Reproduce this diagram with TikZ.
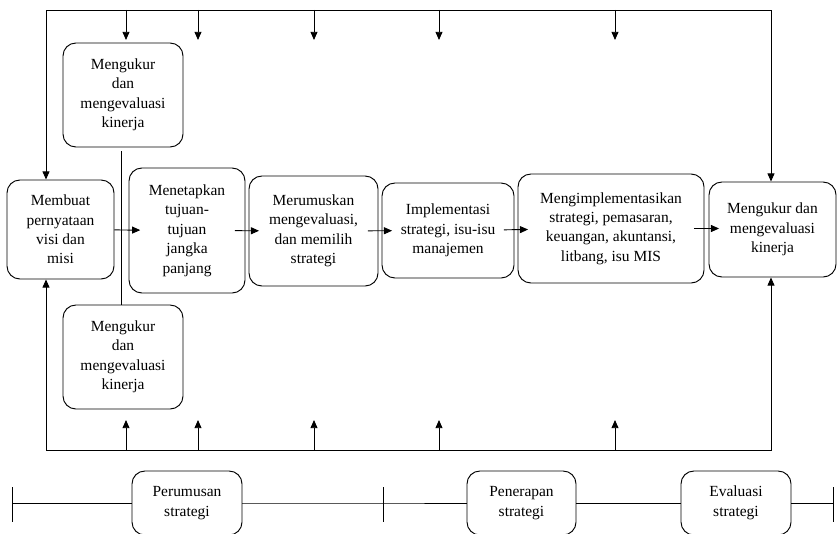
\documentclass[tikz,border=0pt]{standalone}
\usepackage{fontspec}
\setmainfont{Liberation Serif}
\usepackage{tikz}
\usetikzlibrary{arrows.meta,calc}
\definecolor{Garis}{HTML}{000000}
\tikzset{
  kotak/.style={draw=Garis,line width=0.8pt,rounded corners=11pt,fill=white,
    align=center,inner sep=0pt,font=\fontsize{13.2}{16.6}\selectfont},
  panah/.style={draw=Garis,line width=0.8pt,-{Triangle[length=7pt,width=6pt]}},
  sambung/.style={panah,shorten <=-9pt,shorten >=-9pt}
}

\begin{document}
\begin{tikzpicture}[x=0.03cm,y=-0.03cm]
    \useasboundingbox (0,0) rectangle (837,534);

    \node[kotak,minimum width=3.6cm,minimum height=3.12cm] (ukurA) at (123,95) {Mengukur\\dan\\mengevaluasi\\kinerja};
    \node[kotak,minimum width=3.21cm,minimum height=2.97cm] (visi) at (60.5,229.5) {Membuat\\pernyataan\\visi dan\\misi};
    \node[kotak,minimum width=3.48cm,minimum height=3.75cm] (tujuan) at (187,230.5) {Menetapkan\\tujuan-\\tujuan\\jangka\\panjang};
    \node[kotak,minimum width=3.87cm,minimum height=3.3cm] (rumus) at (313.5,231) {Merumuskan\\mengevaluasi,\\dan memilih\\strategi};
    \node[kotak,minimum width=3.96cm,minimum height=2.85cm] (impl) at (448,230.5) {Implementasi\\strategi, isu-isu\\manajemen};
    \node[kotak,minimum width=5.58cm,minimum height=3.27cm] (fungsi) at (611,228.5) {Mengimplementasikan\\strategi, pemasaran,\\keuangan, akuntansi,\\litbang, isu MIS};
    \node[kotak,minimum width=3.81cm,minimum height=2.85cm] (ukurC) at (772.5,229.5) {Mengukur dan\\mengevaluasi\\kinerja};
    \node[kotak,minimum width=3.6cm,minimum height=3.12cm] (ukurB) at (123,357) {Mengukur\\dan\\mengevaluasi\\kinerja};

    % garis balik atas dan bawah
    \coordinate (tl) at (46,10);
    \coordinate (tr) at (771,10);
    \coordinate (bl) at (46,450);
    \coordinate (br) at (771,450);
    \draw[panah,{Triangle[length=7pt,width=6pt]}-{Triangle[length=7pt,width=6pt]}] (tl |- visi.north) -- (tl) -- (tr) -- (tr |- ukurC.north);
    \draw[panah,{Triangle[length=7pt,width=6pt]}-{Triangle[length=7pt,width=6pt]}] (bl |- visi.south) -- (bl) -- (br) -- (br |- ukurC.south);
    \foreach \xa in {126,198,314,439,615} {
        \draw[panah] (\xa,0 |- tl) -- ++(0,30);
        \draw[panah] (\xa,0 |- bl) -- ++(0,-30);
    }

    \draw[draw=Garis,line width=0.8pt] ([xshift=-1.5pt,yshift=-3.4pt]ukurA.south) -- ([xshift=-1.5pt]ukurB.north);

    \draw[panah,shorten >=-10pt] (visi) -- (tujuan);
    \draw[sambung] (tujuan) -- (rumus);
    \draw[sambung] (rumus) -- (impl);
    \draw[sambung] (impl) -- (fungsi);
    \draw[sambung] (fungsi.east) -- (fungsi.east -| ukurC.west);

    % garis tahapan
    \coordinate (t0) at (12,503);
    \coordinate (t1) at (383,503);
    \coordinate (t2) at (833,503);
    \node[kotak,minimum width=3.3cm,minimum height=1.92cm] (fase1) at (187,503) {Perumusan\\strategi};
    \node[kotak,minimum width=3.27cm,minimum height=1.92cm] (fase2) at (521.5,503) {Penerapan\\strategi};
    \node[kotak,minimum width=3.3cm,minimum height=1.92cm] (fase3) at (736,503) {Evaluasi\\strategi};
    \draw[draw=Garis,line width=0.8pt] (t0) -- (fase1) -- (t1) -- (fase2) -- (fase3) -- (t2);
    \foreach \t in {t0,t1,t2}
        \draw[draw=Garis,line width=0.8pt] (\t) ++(0,-16) -- ++(0,35);
\end{tikzpicture}
\end{document}
